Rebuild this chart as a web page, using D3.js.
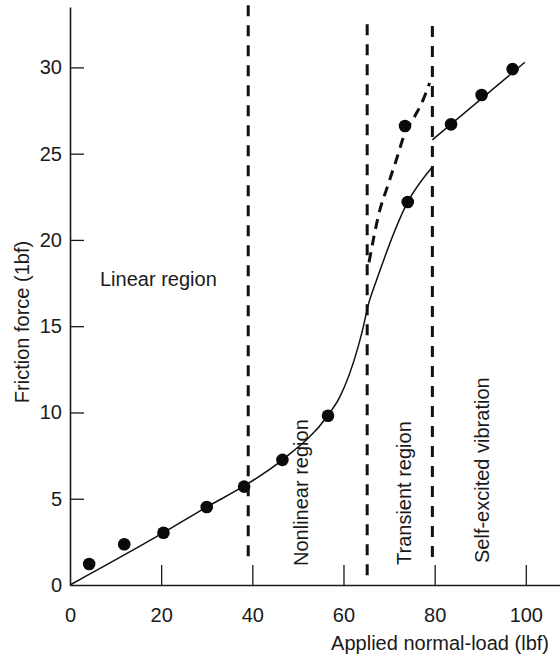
<!DOCTYPE html>
<html lang="en">
<head>
<meta charset="UTF-8">
<title>Friction force vs normal load</title>
<script src="https://d3js.org/d3.v7.min.js"></script>
<style>
    body {margin: 0; background: #fff;}
    text {font-family: "Liberation Sans", Arial, sans-serif; fill: #1a1a1a;}
</style>
</head>
<body>
<div id="chart"></div>
<script>
// measured points (load, friction)
var loads    = [4.2, 11.9, 20.5, 30.0, 38.2, 46.6, 56.6, 74.1, 73.5, 83.6, 90.3, 97.1];
var friction = [1.22, 2.36, 3.03, 4.52, 5.70, 7.25, 9.81, 22.2, 26.6, 26.7, 28.4, 29.9];

// solid curve up to self-excited boundary
var curveX = [0, 20.5, 30.0, 38.2, 46.6, 56.6, 59.2, 63.2, 64.2, 65.4, 67.3, 74.1, 79.4];
var curveY = [0, 3.03, 4.52, 5.74, 7.25, 9.84, 10.9, 13.8, 14.8, 16.2, 17.7, 22.2, 24.2];

// solid line in self-excited region
var upperX = [79.5, 99.8];
var upperY = [25.8, 30.3];

// dashed curve in transient region
var dashX = [65.6, 68.0, 69.4, 71.6, 73.5, 75.7, 77.1, 78.9];
var dashY = [18.7, 21.75, 22.9, 24.65, 26.2, 27.2, 27.9, 29.1];

// region boundaries
var boundX = [39.1, 65.2, 79.5];
var boundTop = [33.6, 32.5, 32.4];
var boundBottom = [1.5, 0.5, 1.4];

var xTicks = [0, 20, 40, 60, 80, 100];
var yTicks = [0, 5, 10, 15, 20, 25, 30];

var width = 560, height = 660;

var svg = d3.select("#chart").append("svg")
    .attr("width", width)
    .attr("height", height);

var x = d3.scaleLinear().domain([0, 107.5]).range([70, 560]);
var y = d3.scaleLinear().domain([0, 33.5]).range([585, 7]);

// x axis, ticks pointing up
var xAxis = svg.append("g")
    .attr("transform", "translate(0," + y(0) + ")")
    .call(d3.axisBottom(x).tickValues(xTicks).tickSizeInner(-20).tickSizeOuter(0).tickPadding(23));
xAxis.select(".domain").attr("stroke", "#1a1a1a").attr("stroke-width", 1.6);
xAxis.selectAll(".tick line").attr("stroke", "#1a1a1a").attr("stroke-width", 1.3);
xAxis.selectAll(".tick text").attr("font-size", "20px").attr("font-family", null)
    .style("fill", "#1a1a1a");
xAxis.selectAll(".tick").filter(function(d){ return d === 0; }).select("line").remove();

// y axis, ticks pointing right
var yAxis = svg.append("g")
    .attr("transform", "translate(" + x(0) + ",0)")
    .call(d3.axisLeft(y).tickValues(yTicks).tickSizeInner(-14).tickSizeOuter(0).tickPadding(8));
yAxis.select(".domain").attr("stroke", "#1a1a1a").attr("stroke-width", 1.6);
yAxis.selectAll(".tick line").attr("stroke", "#1a1a1a").attr("stroke-width", 1.3);
yAxis.selectAll(".tick text").attr("font-size", "20px").attr("font-family", null)
    .style("fill", "#1a1a1a");
yAxis.selectAll(".tick").filter(function(d){ return d === 0; }).select("line").remove();

// region boundaries
svg.selectAll("line.bound")
    .data(boundX)
    .enter().append("line")
    .attr("class", "bound")
    .attr("x1", function(d){ return x(d); })
    .attr("x2", function(d){ return x(d); })
    .attr("y1", function(d, i){ return y(boundTop[i]); })
    .attr("y2", function(d, i){ return y(boundBottom[i]); })
    .attr("stroke", "#111")
    .attr("stroke-width", 3)
    .attr("stroke-dasharray", "11,9");

var line = d3.line()
    .x(function(d){ return x(d[0]); })
    .y(function(d){ return y(d[1]); })
    .curve(d3.curveMonotoneX);

svg.append("path")
    .datum(d3.zip(curveX, curveY))
    .attr("d", line)
    .attr("fill", "none")
    .attr("stroke", "#111")
    .attr("stroke-width", 1.5);

svg.append("path")
    .datum(d3.zip(upperX, upperY))
    .attr("d", line)
    .attr("fill", "none")
    .attr("stroke", "#111")
    .attr("stroke-width", 1.5);

svg.append("path")
    .datum(d3.zip(dashX, dashY))
    .attr("d", line)
    .attr("fill", "none")
    .attr("stroke", "#111")
    .attr("stroke-width", 3)
    .attr("stroke-dasharray", "10,7");

// data points
svg.selectAll("circle")
    .data(d3.zip(loads, friction))
    .enter().append("circle")
    .attr("cx", function(d){ return x(d[0]); })
    .attr("cy", function(d){ return y(d[1]); })
    .attr("r", 6.3)
    .attr("fill", "#0a0a0a");

// region labels
svg.append("text")
    .attr("x", 100).attr("y", 286)
    .attr("font-size", "20px")
    .text("Linear region");

var vlabels = [
    {t: "Nonlinear region", x: 308, y: 566},
    {t: "Transient region", x: 411, y: 565},
    {t: "Self-excited vibration", x: 489, y: 563}
];
svg.selectAll("text.vlab")
    .data(vlabels)
    .enter().append("text")
    .attr("class", "vlab")
    .attr("font-size", "20px")
    .attr("transform", function(d){ return "translate(" + d.x + "," + d.y + ") rotate(-90)"; })
    .text(function(d){ return d.t; });

// axis titles
svg.append("text")
    .attr("x", 549).attr("y", 650)
    .attr("text-anchor", "end")
    .attr("font-size", "20px")
    .text("Applied normal-load (lbf)");

svg.append("text")
    .attr("transform", "translate(29,322) rotate(-90)")
    .attr("text-anchor", "middle")
    .attr("font-size", "20px")
    .text("Friction force (1bf)");
</script>
</body>
</html>
